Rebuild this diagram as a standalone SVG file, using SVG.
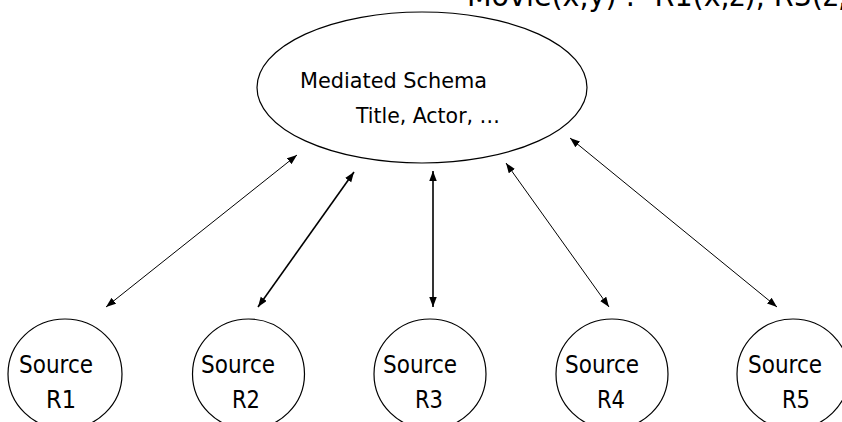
<svg xmlns="http://www.w3.org/2000/svg" width="842" height="422" viewBox="0 0 842 422">
<style>
  text { font-family: "DejaVu Sans Condensed", "DejaVu Sans", sans-serif; fill: #000; }
  .lbl { font-size: 24px; }
  .main { font-size: 22px; }
  .top { font-size: 31px; }
  .shape { fill: #fff; stroke: #000; stroke-width: 1.2; }
  .conn { stroke: #000; fill: none; stroke-width: 1; }
  .thick { stroke-width: 1.6; }
</style>
<defs>
  <marker id="ah" markerUnits="userSpaceOnUse" markerWidth="11" markerHeight="8" refX="10" refY="3.75" orient="auto-start-reverse">
    <path d="M0,0 L10,3.75 L0,7.5 z" fill="#000"/>
  </marker>
</defs>
<rect width="842" height="422" fill="#fff"/>
<g id="rule">
  <text class="top" x="467" y="6" textLength="380" lengthAdjust="spacingAndGlyphs">Movie(x,y) :- R1(x,z), R3(z,</text>
</g>
<g id="mediated">
  <ellipse class="shape" cx="422" cy="87.5" rx="165" ry="75.5"/>
  <text class="main" x="300" y="88" textLength="187" lengthAdjust="spacingAndGlyphs">Mediated Schema</text>
  <text class="main" x="356" y="123" textLength="144" lengthAdjust="spacingAndGlyphs">Title, Actor, …</text>
</g>
<g id="r1">
  <ellipse class="shape" cx="65" cy="374" rx="57" ry="55"/>
  <text class="lbl" x="19" y="373" textLength="74" lengthAdjust="spacingAndGlyphs">Source</text>
  <text class="lbl" x="46" y="408" textLength="30" lengthAdjust="spacingAndGlyphs">R1</text>
</g>
<g id="r2">
  <ellipse class="shape" cx="248.5" cy="374" rx="56" ry="55"/>
  <text class="lbl" x="201" y="373" textLength="74" lengthAdjust="spacingAndGlyphs">Source</text>
  <text class="lbl" x="232" y="408" textLength="28" lengthAdjust="spacingAndGlyphs">R2</text>
</g>
<g id="r3">
  <ellipse class="shape" cx="430" cy="374" rx="56" ry="55"/>
  <text class="lbl" x="383" y="373" textLength="74" lengthAdjust="spacingAndGlyphs">Source</text>
  <text class="lbl" x="415" y="408" textLength="28" lengthAdjust="spacingAndGlyphs">R3</text>
</g>
<g id="r4">
  <ellipse class="shape" cx="612" cy="374" rx="56" ry="55"/>
  <text class="lbl" x="565" y="373" textLength="74" lengthAdjust="spacingAndGlyphs">Source</text>
  <text class="lbl" x="597" y="408" textLength="28" lengthAdjust="spacingAndGlyphs">R4</text>
</g>
<g id="r5">
  <ellipse class="shape" cx="793" cy="374" rx="56" ry="55"/>
  <text class="lbl" x="748" y="373" textLength="74" lengthAdjust="spacingAndGlyphs">Source</text>
  <text class="lbl" x="782" y="408" textLength="28" lengthAdjust="spacingAndGlyphs">R5</text>
</g>
<g id="connectors">
  <line class="conn" x1="106" y1="307" x2="297" y2="155" marker-start="url(#ah)" marker-end="url(#ah)"/>
  <line class="conn thick" x1="258" y1="307" x2="354" y2="172" marker-start="url(#ah)" marker-end="url(#ah)"/>
  <line class="conn thick" x1="433" y1="307" x2="433" y2="171" marker-start="url(#ah)" marker-end="url(#ah)"/>
  <line class="conn" x1="609" y1="307" x2="506" y2="163" marker-start="url(#ah)" marker-end="url(#ah)"/>
  <line class="conn" x1="777" y1="307" x2="570" y2="138" marker-start="url(#ah)" marker-end="url(#ah)"/>
</g>
</svg>
